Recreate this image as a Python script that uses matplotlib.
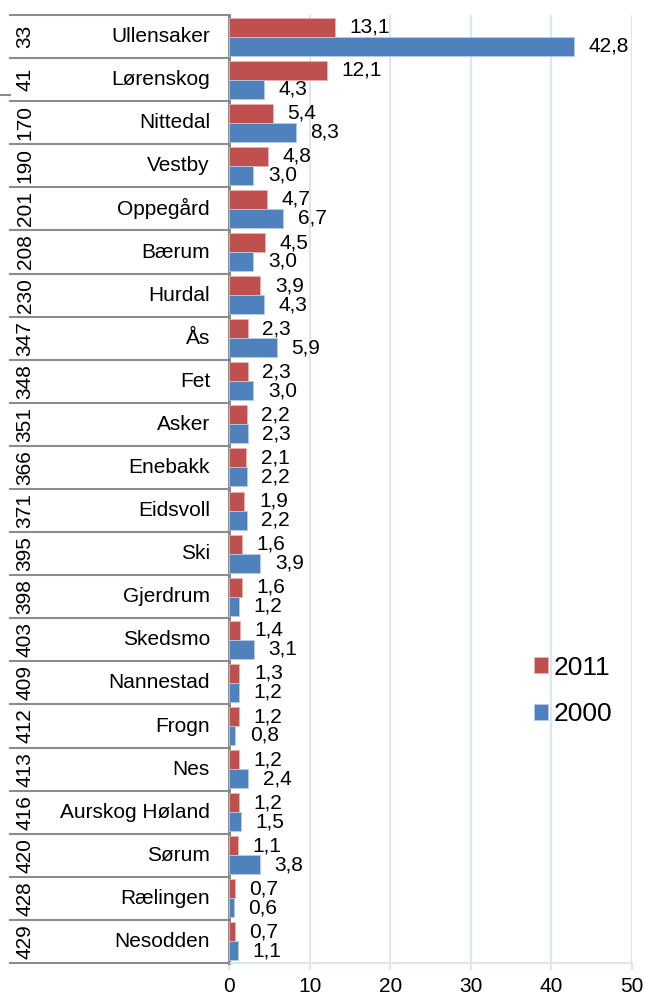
import matplotlib
matplotlib.use("Agg")
import matplotlib.pyplot as plt
from matplotlib.lines import Line2D
import numpy as np

names = ["Ullensaker", "Lørenskog", "Nittedal", "Vestby", "Oppegård", "Bærum", "Hurdal", "Ås",
         "Fet", "Asker", "Enebakk", "Eidsvoll", "Ski", "Gjerdrum", "Skedsmo", "Nannestad",
         "Frogn", "Nes", "Aurskog Høland", "Sørum", "Rælingen", "Nesodden"]
ranks = ["33", "41", "170", "190", "201", "208", "230", "347", "348", "351", "366", "371",
         "395", "398", "403", "409", "412", "413", "416", "420", "428", "429"]
v2011 = [13.1, 12.1, 5.4, 4.8, 4.7, 4.5, 3.9, 2.3, 2.3, 2.2, 2.1, 1.9, 1.6, 1.6, 1.4, 1.3,
         1.2, 1.2, 1.2, 1.1, 0.7, 0.7]
v2000 = [42.8, 4.3, 8.3, 3.0, 6.7, 3.0, 4.3, 5.9, 3.0, 2.3, 2.2, 2.2, 3.9, 1.2, 3.1, 1.2,
         0.8, 2.4, 1.5, 3.8, 0.6, 1.1]
xticks = [0, 10, 20, 30, 40, 50]

plt.rcParams['font.family'] = ['Liberation Sans', 'DejaVu Sans']

W, H = 646, 998
fig = plt.figure(figsize=(W / 100, H / 100), dpi=100)
x0, x1, ytop, ybot = 229, 632, 15, 963
ax = fig.add_axes([x0 / W, 1 - ybot / H, (x1 - x0) / W, (ybot - ytop) / H])

red = "#C0504D"
blue = "#4F81BD"
fs = 15
n = len(names)
y = np.arange(n)
bh = 0.44
b1 = ax.barh(y - bh / 2, v2011, height=bh, color=red, edgecolor="#E8B4B2", linewidth=0.6, label="2011", zorder=3)
b2 = ax.barh(y + bh / 2, v2000, height=bh, color=blue, edgecolor="#B7CCE6", linewidth=0.6, label="2000", zorder=3)

for yi, v in zip(y - bh / 2, v2011):
    ax.annotate(f"{v:.1f}".replace(".", ","), (v, yi), xytext=(10.5, 0), textcoords="offset points",
                va="center", ha="left", fontsize=fs, zorder=4)
for yi, v in zip(y + bh / 2, v2000):
    ax.annotate(f"{v:.1f}".replace(".", ","), (v, yi), xytext=(10.5, 0), textcoords="offset points",
                va="center", ha="left", fontsize=fs, zorder=4)

ax.set_xlim(0, 50)
ax.set_ylim(n - 0.5, -0.5)
ax.set_xticks(xticks)
ax.set_xticklabels([str(t) for t in xticks], fontsize=fs)
ax.set_yticks([])
grid_c = "#DCE6F2"
ax.grid(axis="x", color=grid_c, linewidth=1.5, zorder=0)
for s in ["top", "right"]:
    ax.spines[s].set_visible(False)
ax.spines["bottom"].set_color(grid_c)
ax.spines["bottom"].set_linewidth(1.5)
ax.spines["left"].set_color("#808080")
ax.spines["left"].set_linewidth(2)
ax.tick_params(axis="x", length=5, width=1.5, color=grid_c, pad=5)

# left table
row_h = (ybot - ytop) / n
for i in range(n + 1):
    yy = 1 - (ytop + i * row_h) / H
    fig.add_artist(Line2D([10 / W, x0 / W], [yy, yy], color="#8C8C8C", linewidth=1.5))
for i in range(n):
    yc = 1 - (ytop + (i + 0.5) * row_h) / H
    fig.text(210 / W, yc, names[i], ha="right", va="center", fontsize=fs)
    fig.text(25 / W, yc, ranks[i], ha="center", va="center", rotation=90, fontsize=fs)
fig.add_artist(Line2D([0, 10 / W], [1 - 95 / H, 1 - 95 / H], color="#8C8C8C", linewidth=1.5))

leg = ax.legend(handles=[b1, b2], loc="center left", frameon=False,
                fontsize=19, handlelength=0.55, handleheight=0.55, handletextpad=0.2, labelspacing=0.85)
leg.set_bbox_to_anchor((510 / W, 1 - 691 / H), transform=fig.transFigure)

fig.savefig("out.png", dpi=100)
